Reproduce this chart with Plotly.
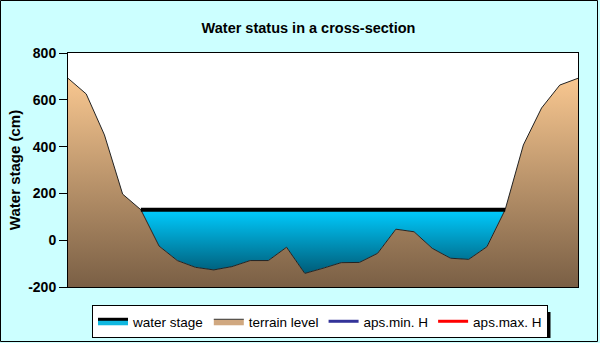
import plotly.graph_objects as go

# ---- data ----
positions = list(range(29))
terrain_level = [692, 625, 450, 197, 130, -25, -87, -116, -127, -113, -87, -87, -30,
                 -142, -120, -96, -95, -56, 47, 36, -35, -77, -82, -28, 130, 407, 565, 663, 692]
water_stage = [None] * 4 + [130] * 21 + [None] * 4
y_ticks = [-200, 0, 200, 400, 600, 800]
y_tick_labels = ["-200", "0", "200", "400", "600", "800"]
y_min, y_max = -200, 800

W, H = 600, 343
ML, MR, MT, MB = 68, 22, 53, 56
PW, PH = W - ML - MR, H - MT - MB


def px(x):
    return (x - ML) / PW


def py(y):
    return (H - MB - y) / PH


fig = go.Figure()

# water polygon between water line and terrain
wi = [i for i, v in enumerate(water_stage) if v is not None]
wx = [positions[i] for i in wi] + [positions[i] for i in reversed(wi)]
wy = [water_stage[i] for i in wi] + [terrain_level[i] for i in reversed(wi)]
fig.add_trace(go.Scatter(
    x=wx, y=wy, mode="lines", fill="toself", line=dict(width=0),
    fillgradient=dict(type="vertical", colorscale=[[0, "#005C78"], [1, "#00CCFF"]],
                      start=min(wy), stop=max(wy)),
    showlegend=False, hoverinfo="skip"))

# terrain: baseline then terrain filled to it
fig.add_trace(go.Scatter(x=positions, y=[y_min] * len(positions), mode="lines",
                         line=dict(width=0), showlegend=False, hoverinfo="skip"))
fig.add_trace(go.Scatter(
    x=positions, y=terrain_level, mode="lines", fill="tonexty",
    line=dict(color="#222222", width=1),
    fillgradient=dict(type="vertical", colorscale=[[0, "#7A5F45"], [1, "#F8C790"]],
                      start=y_min, stop=max(terrain_level)),
    showlegend=False))

# water line
fig.add_trace(go.Scatter(x=positions, y=water_stage, mode="lines",
                         line=dict(color="black", width=4), showlegend=False))

# legend entries
fig.add_trace(go.Scatter(x=[None], y=[None], mode="lines", fill="toself",
                         fillcolor="#10B8E0", line=dict(color="black", width=3),
                         name="water stage"))
fig.add_trace(go.Scatter(x=[None], y=[None], mode="lines", fill="toself",
                         fillcolor="#D0A880", line=dict(color="#333333", width=1),
                         name="terrain level"))
fig.add_trace(go.Scatter(x=[None], y=[None], mode="lines",
                         line=dict(color="#333399", width=3), name="aps.min. H"))
fig.add_trace(go.Scatter(x=[None], y=[None], mode="lines",
                         line=dict(color="#FF0000", width=3), name="aps.max. H"))

shapes = [
    # outer border
    dict(type="rect", xref="paper", yref="paper", x0=px(0.5), x1=px(597.5),
         y0=py(341.5), y1=py(0.5), line=dict(color="black", width=1), layer="below"),
    # legend shadow
    dict(type="rect", xref="paper", yref="paper", x0=px(95), x1=px(550.5),
         y0=py(338), y1=py(312), fillcolor="black", line=dict(width=0)),
]

fig.update_layout(
    width=W, height=H,
    margin=dict(l=ML, r=MR, t=MT, b=MB, autoexpand=False),
    paper_bgcolor="#CCFFFF", plot_bgcolor="white",
    font=dict(family="Arial, Liberation Sans", color="black"),
    title=dict(text="<b>Water status in a cross-section</b>", x=308.5 / W, xanchor="center",
               y=1 - 27.5 / H, yanchor="middle", font=dict(size=14.5, color="black")),
    xaxis=dict(range=[positions[0], positions[-1]], showticklabels=False, ticks="",
               showgrid=False, zeroline=False, showline=True, linecolor="black",
               linewidth=1, mirror=True, automargin=False),
    yaxis=dict(range=[y_min, y_max], tickvals=y_ticks, ticktext=y_tick_labels,
               ticks="outside", ticklen=8,
               tickcolor="black", showgrid=False, zeroline=False, showline=True,
               linecolor="black", linewidth=1, mirror=True, automargin=False,
               tickfont=dict(size=14, weight="bold"),
               title=dict(text="<b>Water stage (cm)</b>", font=dict(size=15), standoff=3)),
    legend=dict(orientation="h", x=px(92), y=py(305), xanchor="left", yanchor="top",
                bgcolor="white", bordercolor="black", borderwidth=1, traceorder="normal",
                font=dict(size=13.5), itemwidth=30, tracegroupgap=0),
    shapes=shapes,
    showlegend=True,
)

fig.write_html("out.html", config={"displayModeBar": False},
               post_script="document.body.style.margin='0';")
